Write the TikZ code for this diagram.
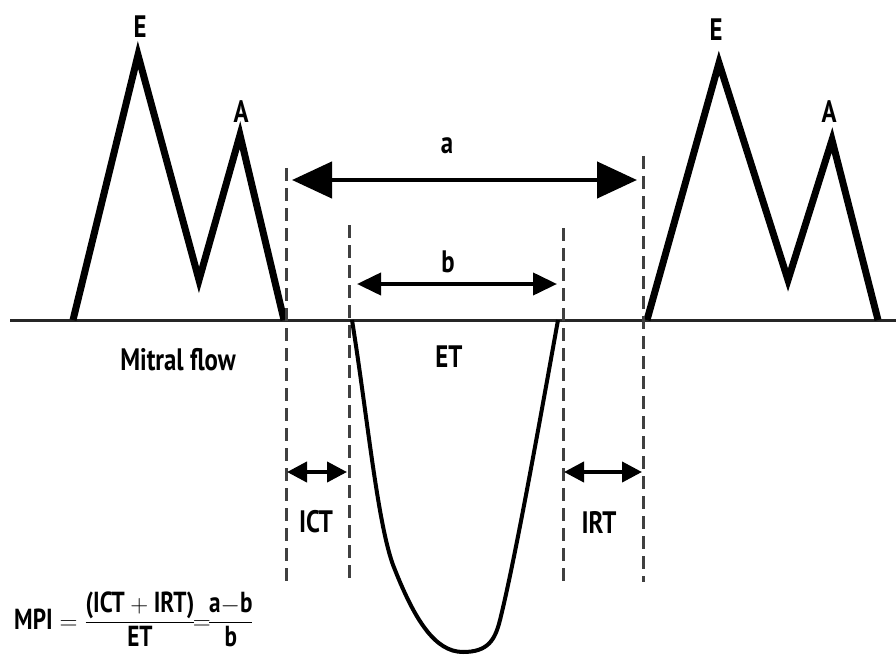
\documentclass[tikz,border=0pt]{standalone}
\usepackage{fontspec}
\usepackage{amsmath}
\setmainfont{PT Sans}[FakeStretch=0.8]
\usetikzlibrary{arrows.meta}
\begin{document}
\begin{tikzpicture}[x=1pt,y=-1pt,
  wave/.style={line width=7pt,line join=miter,miter limit=12},
  baseln/.style={line width=3pt, draw=black!85},
  guide/.style={line width=3pt,dash pattern=on 13pt off 7pt,draw=black!75},
  lbl/.style={font=\fontsize{31}{36}\selectfont\bfseries,inner sep=0pt},
  arrA/.style={line width=4.5pt,{Triangle[length=40pt,width=36pt]}-{Triangle[length=40pt,width=36pt]}},
  arrB/.style={line width=4pt,{Triangle[length=24pt,width=22pt]}-{Triangle[length=24pt,width=22pt]}},
  arrS/.style={line width=4pt,{Triangle[length=20pt,width=20pt]}-{Triangle[length=20pt,width=20pt]}},
  etcurve/.style={line width=4pt}]
\useasboundingbox (0,0) rectangle (896,655);
\clip (0,0) rectangle (896,655);

% baseline
\coordinate (bl0) at (10,320);
\coordinate (bl1) at (896,320);
\draw[baseln] (bl0) -- (bl1);

% left mitral wave
\coordinate (L0) at (73,320);
\coordinate (LE) at (138,55);
\coordinate (LV) at (199,280);
\coordinate (LA) at (240,135);
\coordinate (L1) at (284,320);
\draw[wave] (L0) -- (LE) -- (LV) -- (LA) -- (L1);

% right mitral wave
\coordinate (R0) at (647,320);
\coordinate (RE) at (719,63);
\coordinate (RV) at (788,280);
\coordinate (RA) at (832,140);
\coordinate (R1) at (878,320);
\draw[wave] (R0) -- (RE) -- (RV) -- (RA) -- (R1);

% guide lines
\coordinate (g1t) at (286,168); \coordinate (g1b) at (286,588);
\coordinate (g2t) at (349,225); \coordinate (g2b) at (349,585);
\coordinate (g3t) at (563,228); \coordinate (g3b) at (563,587);
\coordinate (g4t) at (643,156); \coordinate (g4b) at (643,582);
\draw[guide] (g1t) -- (g1b);
\draw[guide] (g2t) -- (g2b);
\draw[guide] (g3t) -- (g3b);
\draw[guide] (g4t) -- (g4b);

% ET curve
\coordinate (et0) at (352,320);
\coordinate (et1) at (395,570);
\coordinate (etb) at (463,652);
\coordinate (et2) at (500,620);
\coordinate (et3) at (558,320);
\draw[etcurve] (et0) .. controls (368,420) and (378,530) .. (et1)
  .. controls (415,620) and (435,652) .. (etb)
  .. controls (488,652) and (495,640) .. (et2)
  .. controls (515,560) and (540,420) .. (et3);

% interval arrows
\coordinate (aL) at (292,180); \coordinate (aR) at (637,180);
\draw[arrA] (aL) -- (aR);
\coordinate (bL) at (357,284); \coordinate (bR) at (557,284);
\draw[arrB] (bL) -- (bR);
\coordinate (iL) at (287,472); \coordinate (iR) at (347,472);
\draw[arrS] (iL) -- (iR);
\coordinate (rL) at (564,472); \coordinate (rR) at (642,472);
\draw[arrS] (rL) -- (rR);

% labels
\node[lbl] (tE1) at (140,27) {E};
\node[lbl] (tA1) at (241,112) {A};
\node[lbl] (tE2) at (716,30) {E};
\node[lbl] (tA2) at (829,112) {A};
\node[lbl] (ta) at (447,146) {a};
\node[lbl] (tb) at (448,262) {b};
\node[lbl] (tET) at (449,357) {ET};
\node[lbl] (tMF) at (178,360) {Mitral flow};
\node[lbl] (tICT) at (316,522) {ICT};
\node[lbl] (tIRT) at (599,522) {IRT};

% formula
\node[lbl,font=\fontsize{29}{34}\selectfont\bfseries,anchor=base west] (mpi) at (14,629)
  {$\text{\bfseries MPI}=\dfrac{\text{\bfseries (ICT}+\text{\bfseries IRT)}}{\text{\bfseries ET}}\mkern-2mu{=}\mkern-2mu\dfrac{\text{\bfseries a}{-}\text{\bfseries b}}{\text{\bfseries b}}$};
\end{tikzpicture}
\end{document}
